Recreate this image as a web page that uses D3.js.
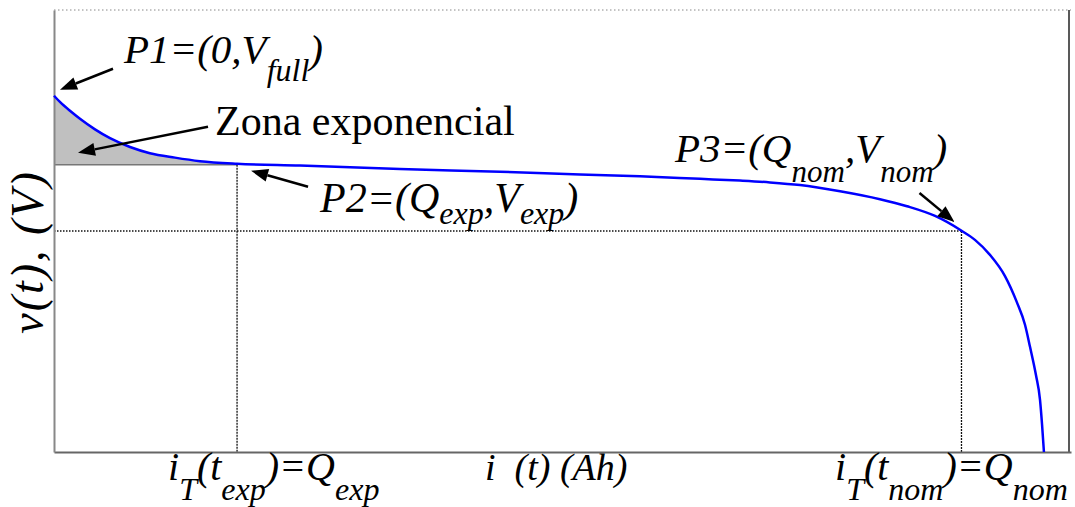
<!DOCTYPE html>
<html>
<head>
<meta charset="utf-8">
<script src="https://cdn.jsdelivr.net/npm/d3@7"></script>
<style>
  html, body { margin: 0; padding: 0; background: #fff; }
  svg { display: block; }
</style>
</head>
<body>
<svg id="chart" width="1075" height="507"></svg>
<script>
// Discharge curve of a battery cell: voltage vs. extracted charge
const capacityAh = [0, 0.038, 0.102, 0.166, 0.262, 0.358, 0.486, 0.613, 0.773, 0.933,
  1.170, 1.572, 2.211, 2.851, 3.362, 3.745, 4.129, 4.384, 4.576, 4.768, 5.024,
  5.279, 5.452, 5.631, 5.803, 5.886, 5.982, 6.078, 6.155, 6.206, 6.238,
  6.276, 6.302, 6.315, 6.327];
const voltageV = [1.403, 1.396, 1.386, 1.377, 1.365, 1.355, 1.345, 1.338, 1.333, 1.329,
  1.326, 1.324, 1.320, 1.317, 1.314, 1.312, 1.309, 1.307, 1.305, 1.302, 1.295,
  1.286, 1.278, 1.267, 1.250, 1.240, 1.223, 1.199, 1.169, 1.144, 1.119,
  1.087, 1.059, 1.031, 1.000];

// Characteristic points of the curve
const V_FULL = 1.403;
const Q_EXP = 1.17, V_EXP = 1.325;
const Q_NOM = 5.80, V_NOM = 1.25;

const xDomain = [0, 6.5];
const yDomain = [1.0, 1.5];

const SERIF = "'Liberation Serif', 'Times New Roman', Times, serif";

const svg = d3.select("#chart").attr("font-family", SERIF);
const margin = { left: 54, right: 4, top: 10, bottom: 55 };
const W = 1075, H = 507;

const x = d3.scaleLinear().domain(xDomain).range([margin.left, W - margin.right]);
const y = d3.scaleLinear().domain(yDomain).range([H - margin.bottom, margin.top]);

const pts = capacityAh.map((q, i) => ({ q, v: voltageV[i] }));

// Exponential zone (shaded between curve and V_exp)
const expPts = pts.filter(d => d.q <= Q_EXP);
svg.append("path")
  .datum(expPts)
  .attr("fill", "#c0c0c0")
  .attr("d", d3.area().x(d => x(d.q)).y0(y(V_EXP)).y1(d => y(d.v)).curve(d3.curveMonotoneX));
svg.append("line")
  .attr("x1", x(0)).attr("x2", x(Q_EXP))
  .attr("y1", y(V_EXP)).attr("y2", y(V_EXP))
  .attr("stroke", "#777").attr("stroke-width", 1.5);

// Frame: dotted top, solid right
svg.append("line")
  .attr("x1", x(0)).attr("x2", x(xDomain[1]))
  .attr("y1", y(yDomain[1])).attr("y2", y(yDomain[1]))
  .attr("stroke", "#888").attr("stroke-width", 1).attr("stroke-dasharray", "1.5,2.5");
svg.append("line")
  .attr("x1", x(xDomain[1]) - 2).attr("x2", x(xDomain[1]) - 2)
  .attr("y1", y(yDomain[1])).attr("y2", y(yDomain[0]))
  .attr("stroke", "#222").attr("stroke-width", 1.5);

// Guide lines at Q_exp and at (Q_nom, V_nom)
const dotted = (x1, y1, x2, y2, dash) => svg.append("line")
  .attr("x1", x1).attr("y1", y1).attr("x2", x2).attr("y2", y2)
  .attr("stroke", "#111").attr("stroke-width", 1.3).attr("stroke-dasharray", dash);
dotted(x(Q_EXP), y(V_EXP), x(Q_EXP), y(yDomain[0]), "2,1");
dotted(x(0), y(V_NOM), x(Q_NOM), y(V_NOM), "1.5,1.5");
dotted(x(Q_NOM), y(V_NOM), x(Q_NOM), y(yDomain[0]), "2,1");

// Axes without ticks
svg.append("g")
  .attr("transform", `translate(0,${y(yDomain[0])})`)
  .call(d3.axisBottom(x).tickValues([]).tickSizeOuter(0))
  .call(g => g.select(".domain").attr("stroke", "#666").attr("stroke-width", 2));
svg.append("g")
  .attr("transform", `translate(${x(0)},0)`)
  .call(d3.axisLeft(y).tickValues([]).tickSizeOuter(0))
  .call(g => g.select(".domain").attr("stroke", "#888").attr("stroke-width", 2));

// Discharge curve
svg.append("path")
  .datum(pts)
  .attr("fill", "none")
  .attr("stroke", "#0000ff")
  .attr("stroke-width", 2.5)
  .attr("d", d3.line().x(d => x(d.q)).y(d => y(d.v)).curve(d3.curveMonotoneX));

// Arrows with filled heads
function arrow(x1, y1, x2, y2) {
  const a = Math.atan2(y2 - y1, x2 - x1);
  const len = 17, half = 6.5;
  const bx = x2 - len * Math.cos(a), by = y2 - len * Math.sin(a);
  svg.append("line")
    .attr("x1", x1).attr("y1", y1).attr("x2", bx).attr("y2", by)
    .attr("stroke", "#000").attr("stroke-width", 2.5);
  svg.append("path")
    .attr("d", `M${x2},${y2}L${bx + half * Math.sin(a)},${by - half * Math.cos(a)}L${bx - half * Math.sin(a)},${by + half * Math.cos(a)}Z`)
    .attr("fill", "#000");
}
const p1 = [x(0), y(V_FULL)], p2 = [x(Q_EXP), y(V_EXP)], p3 = [x(Q_NOM), y(V_NOM)];
arrow(p1[0] + 59, p1[1] - 27, p1[0] + 6, p1[1] - 6);
arrow(x(0) + 154, y(V_EXP) - 38, x(0) + 24, y(V_EXP) - 12);
arrow(p2[0] + 71, p2[1] + 22, p2[0] + 14, p2[1] + 6);
arrow(p3[0] - 42, p3[1] - 38, p3[0] - 7, p3[1] - 9);

// Text with subscripts
function rich(tx, ty, parts, size, subSize, off, attrs = {}) {
  const t = svg.append("text")
    .attr("x", tx).attr("y", ty)
    .attr("font-family", SERIF)
    .attr("font-style", "italic")
    .attr("font-size", size)
    .attr("fill", "#000")
    .style("white-space", "pre");
  Object.entries(attrs).forEach(([k, v]) => t.attr(k, v));
  let cur = 0;
  parts.forEach(([s, sub]) => {
    const lvl = sub ? off : 0;
    t.append("tspan")
      .attr("dy", lvl - cur)
      .attr("font-size", sub ? subSize : size)
      .text(s);
    cur = lvl;
  });
  return t;
}

rich(124, 63, [["P1=(0,V", 0], ["full", 1], [")", 0]], 41, 32, 18);
rich(320, 212, [["P2=(Q", 0], ["exp", 1], [",V", 0], ["exp", 1], [")", 0]], 42, 32, 12);
rich(675, 162, [["P3=(Q", 0], ["nom", 1], [",V", 0], ["nom", 1], [")", 0]], 41, 31, 20);

svg.append("text")
  .attr("x", 215).attr("y", 135)
  .attr("font-family", SERIF)
  .attr("font-size", 42)
  .attr("fill", "#000")
  .text("Zona exponencial");

rich(168, 480, [["i", 0], ["T", 1], ["(t", 0], ["exp", 1], [")=Q", 0], ["exp", 1]], 40, 32, 20);
rich(835, 480, [["i", 0], ["T", 1], ["(t", 0], ["nom", 1], [")=Q", 0], ["nom", 1]], 40, 32, 20);
rich(485, 480, [["i  (t) (Ah)", 0]], 38, 30, 0);

// Vertical axis title
rich(0, 0, [["v(t), (V)", 0]], 46, 46, 0,
  { transform: "translate(43,252) rotate(-90)", "text-anchor": "middle", "letter-spacing": 2 });
</script>
</body>
</html>
